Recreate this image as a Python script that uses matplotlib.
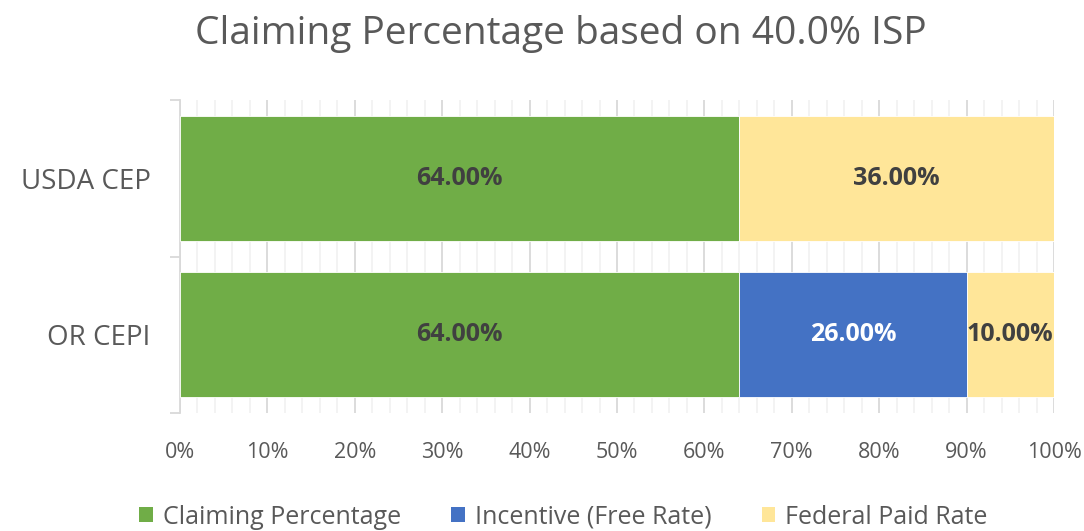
import matplotlib

matplotlib.use("Agg")
import matplotlib.pyplot as plt
from matplotlib.patches import Patch
from matplotlib.ticker import MultipleLocator, PercentFormatter

plt.rcParams["font.family"] = ["Open Sans", "DejaVu Sans"]

categories = ["OR CEPI", "USDA CEP"]
series_names = ["Claiming Percentage", "Incentive (Free Rate)", "Federal Paid Rate"]
claiming = [64.0, 64.0]
incentive = [26.0, 0.0]
federal = [10.0, 36.0]
series_colors = ["#70AD47", "#4472C4", "#FFE699"]
label_colors = ["#404040", "#FFFFFF", "#404040"]
title = "Claiming Percentage based on 40.0% ISP"

fig = plt.figure(figsize=(10.84, 5.31), dpi=100)
ax = fig.add_axes([180 / 1084, 1 - 413 / 531, 874 / 1084, 313 / 531])

y = list(range(len(categories)))
left = [0.0] * len(categories)
for values, name, color, lcolor in zip(
    [claiming, incentive, federal], series_names, series_colors, label_colors
):
    bars = ax.barh(y, values, left=left, height=0.8, color=color,
                   edgecolor="white", linewidth=0.6, zorder=3, label=name)
    for bar, v in zip(bars, values):
        if v > 0:
            ax.text(bar.get_x() + bar.get_width() / 2, bar.get_y() + bar.get_height() / 2,
                    f"{v:.2f}%", ha="center", va="center", fontsize=18,
                    fontweight="bold", color=lcolor, zorder=4, clip_on=False)
    left = [a + b for a, b in zip(left, values)]

ax.set_xlim(0, 100)
ax.set_ylim(-0.5, 1.5)
ax.xaxis.set_major_locator(MultipleLocator(10))
ax.xaxis.set_minor_locator(MultipleLocator(2))
ax.xaxis.set_major_formatter(PercentFormatter(decimals=0))
ax.grid(axis="x", which="major", color="#D9D9D9", linewidth=1.3, zorder=0)
ax.grid(axis="x", which="minor", color="#F2F2F2", linewidth=1.3, zorder=0)
ax.set_axisbelow(True)

ax.set_yticks([-0.5, 0.5, 1.5])
ax.set_yticklabels([])
ax.set_yticks(y, minor=True)
ax.set_yticklabels(categories, minor=True)
ax.tick_params(axis="y", which="major", length=7, color="#D9D9D9", width=1.3)
ax.tick_params(axis="y", which="minor", length=0, pad=21, labelsize=20, labelcolor="#595959")
ax.tick_params(axis="x", which="both", length=0, pad=21, labelsize=15.5, labelcolor="#595959")

for side in ["top", "right", "bottom"]:
    ax.spines[side].set_visible(False)
ax.spines["left"].set_color("#D9D9D9")
ax.spines["left"].set_linewidth(1.3)

fig.text(0.517, 1 - 44 / 531, title, ha="center", va="baseline", fontsize=28, color="#595959")

handles = [Patch(facecolor=c, edgecolor="none") for c in series_colors]
fig.legend(handles, series_names, loc="center", bbox_to_anchor=(0.52, 0.026), ncol=3,
           frameon=False, fontsize=18, labelcolor="#595959", handlelength=0.55,
           handleheight=0.55, handletextpad=0.4, columnspacing=2.0,
           borderpad=0, borderaxespad=0)

fig.savefig("out.png", dpi=100)
